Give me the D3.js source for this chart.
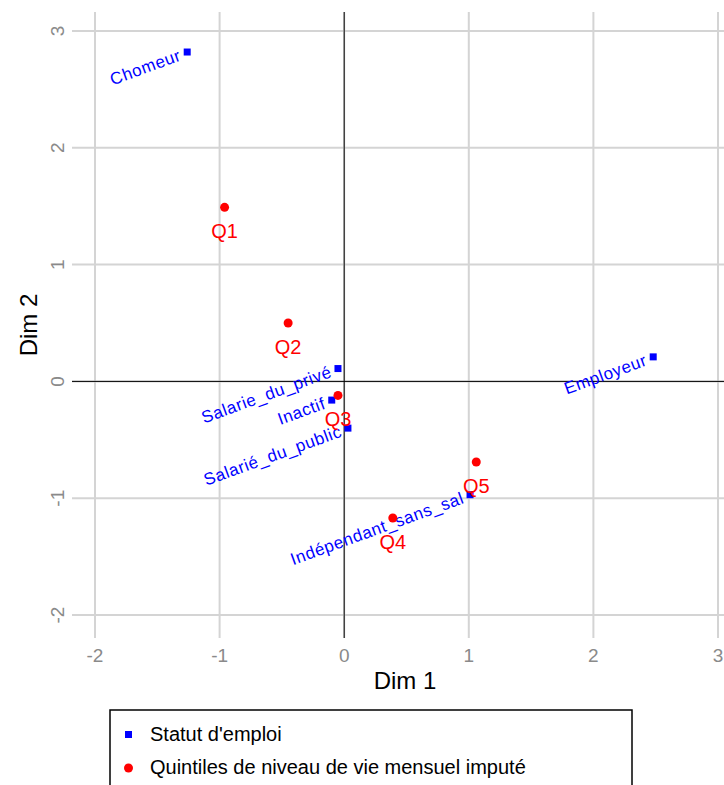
<!DOCTYPE html>
<html><head><meta charset="utf-8">
<script src="https://cdn.jsdelivr.net/npm/d3@7"></script>
<style>body{margin:0;background:#fff}text{font-family:Arial,"Liberation Sans",sans-serif}</style>
</head><body><svg id="c" width="724" height="785"></svg>
<script>
const statutNames = ["Chomeur", "Employeur", "Salarie_du_privé", "Inactif", "Salarié_du_public", "Indépendant_sans_sal"];
const statutX = [-1.26, 2.48, -0.05, -0.10, 0.03, 1.01];
const statutY = [2.82, 0.21, 0.11, -0.16, -0.40, -0.97];
const quintNames = ["Q1", "Q2", "Q3", "Q4", "Q5"];
const quintX = [-0.96, -0.45, -0.05, 0.39, 1.06];
const quintY = [1.49, 0.50, -0.12, -1.17, -0.69];
const ticks = [-2, -1, 0, 1, 2, 3];
const legendLabels = ["Statut d'emploi", "Quintiles de niveau de vie mensuel imputé"];

const svg = d3.select("#c");
const x = d3.scaleLinear().domain([-2, 3]).range([95, 718]);
const y = d3.scaleLinear().domain([-2, 3]).range([615, 31]);
const pLeft = 72, pRight = 724, pTop = 12, pBottom = 638;

const grid = svg.append("g");
ticks.forEach(t => {
  grid.append("line").attr("x1", x(t)).attr("x2", x(t)).attr("y1", pTop).attr("y2", pBottom)
    .attr("stroke", "#d4d4d4").attr("stroke-width", 2);
  grid.append("line").attr("x1", pLeft).attr("x2", pRight).attr("y1", y(t)).attr("y2", y(t))
    .attr("stroke", "#d4d4d4").attr("stroke-width", 2);
  svg.append("text").attr("x", x(t)).attr("y", 662).attr("text-anchor", "middle")
    .attr("font-size", 19).attr("fill", "#8a8a8a").text(t);
  svg.append("text").attr("transform", `translate(64,${y(t)}) rotate(-90)`).attr("text-anchor", "middle")
    .attr("font-size", 19).attr("fill", "#8a8a8a").text(t);
});
svg.append("line").attr("x1", x(0)).attr("x2", x(0)).attr("y1", pTop).attr("y2", pBottom).attr("stroke", "#000");
svg.append("line").attr("x1", pLeft).attr("x2", pRight).attr("y1", y(0)).attr("y2", y(0)).attr("stroke", "#000");

svg.append("text").attr("x", 405).attr("y", 689).attr("text-anchor", "middle").attr("font-size", 24).text("Dim 1");
svg.append("text").attr("transform", "translate(37,325) rotate(-90)").attr("text-anchor", "middle").attr("font-size", 24).text("Dim 2");

statutNames.forEach((n, i) => {
  const px = x(statutX[i]), py = y(statutY[i]);
  svg.append("rect").attr("x", px - 3.5).attr("y", py - 3.5).attr("width", 7).attr("height", 7).attr("fill", "#0000ff");
  svg.append("text").attr("transform", `translate(${px - 5},${py + 8}) rotate(-20)`)
    .attr("text-anchor", "end").attr("font-size", 17).attr("letter-spacing", 0.6)
    .attr("fill", "#0000ff").text(n);
});
quintNames.forEach((n, i) => {
  const px = x(quintX[i]), py = y(quintY[i]);
  svg.append("circle").attr("cx", px).attr("cy", py).attr("r", 4.5).attr("fill", "#ff0000");
  svg.append("text").attr("x", px).attr("y", py + 31).attr("text-anchor", "middle")
    .attr("font-size", 20).attr("fill", "#ff0000").text(n);
});

const lg = svg.append("g");
lg.append("rect").attr("x", 110).attr("y", 710).attr("width", 522).attr("height", 80)
  .attr("fill", "#fff").attr("stroke", "#000").attr("stroke-width", 1.5);
lg.append("rect").attr("x", 125).attr("y", 731).attr("width", 7).attr("height", 7).attr("fill", "#0000ff");
lg.append("circle").attr("cx", 128.5).attr("cy", 768).attr("r", 4.5).attr("fill", "#ff0000");
legendLabels.forEach((l, i) => {
  lg.append("text").attr("x", 150).attr("y", 741 + i * 33).attr("font-size", 20).text(l);
});
</script></body></html>
